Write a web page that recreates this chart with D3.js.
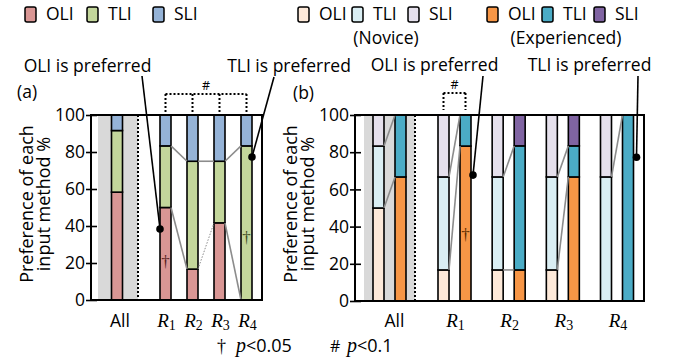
<!DOCTYPE html>
<html>
<head>
<meta charset="utf-8">
<script src="https://cdn.jsdelivr.net/npm/d3@7"></script>
<style>
  body { margin: 0; background: #fff; }
  svg { display: block; font-family: "Open Sans", sans-serif; }
</style>
</head>
<body>
<svg id="chart" width="673" height="364"></svg>
<script>
// NOTE: data (% of participants preferring each method)
const methods = ['OLI', 'TLI', 'SLI'];
const groups = ['All', 'R1', 'R2', 'R3', 'R4'];
const levels = ['Novice', 'Experienced'];
const yTicks = [0, 20, 40, 60, 80, 100];

// (a) all participants
const allOLI = [58.3, 50, 16.7, 41.7, 0];
const allTLI = [33.3, 33.3, 58.3, 33.3, 83.3];
const allSLI = [8.3, 16.7, 25, 25, 16.7];

// (b) novice vs experienced
const novOLI = [50, 16.7, 16.7, 16.7, 0];
const novTLI = [33.3, 50, 50, 50, 66.7];
const novSLI = [16.7, 33.3, 33.3, 33.3, 33.3];
const expOLI = [66.7, 83.3, 16.7, 66.7, 0];
const expTLI = [33.3, 16.7, 66.7, 16.7, 100];
const expSLI = [0, 0, 16.7, 16.7, 0];

// NOTE: colours
const colorsA = { OLI: '#d99694', TLI: '#c3d69b', SLI: '#95b3d7' };
const colorsNov = { OLI: '#fde9d9', TLI: '#daeef3', SLI: '#e5e0ec' };
const colorsExp = { OLI: '#f79646', TLI: '#4bacc6', SLI: '#8064a2' };
const linkColor = '#8c8c8c';
const shadeColor = '#d9d9d9';

const svg = d3.select('#chart');
const barW = 11;
const fs = 17.5;
const plotTop = 115, plotBottom = 300;

function stackOf(oli, tli, sli) {
  const rows = groups.map((g, i) => ({ group: g, OLI: oli[i], TLI: tli[i], SLI: sli[i] }));
  return d3.stack().keys(methods)(rows);
}

function drawBars(g, stacked, colors, xc, y) {
  stacked.forEach((layer) => {
    g.append('g')
      .selectAll('rect')
      .data(layer.filter((d) => d[1] - d[0] > 0))
      .join('rect')
      .attr('x', (d) => xc(d.data.group) - barW / 2)
      .attr('y', (d) => y(d[1]))
      .attr('width', barW)
      .attr('height', (d) => y(d[0]) - y(d[1]))
      .attr('fill', colors[layer.key])
      .attr('stroke', '#000')
      .attr('stroke-width', 1.6);
  });
}

function panel(shade) {
  const g = svg.append('g');
  g.append('rect')
    .attr('x', shade[0]).attr('y', plotTop)
    .attr('width', shade[1] - shade[0]).attr('height', plotBottom - plotTop)
    .attr('fill', shadeColor);
  g.append('line')
    .attr('x1', shade[1]).attr('x2', shade[1])
    .attr('y1', plotTop).attr('y2', plotBottom)
    .attr('stroke', '#000').attr('stroke-width', 2).attr('stroke-dasharray', '2,2');
  return g;
}

function frame(g, x0, x1, y) {
  g.append('rect')
    .attr('x', x0).attr('y', y(100))
    .attr('width', x1 - x0).attr('height', y(0) - y(100))
    .attr('fill', 'none').attr('stroke', '#000').attr('stroke-width', 2);
  const ax = g.append('g')
    .attr('transform', `translate(${x0},0)`)
    .call(d3.axisLeft(y).tickValues(yTicks).tickSize(5).tickPadding(1));
  ax.select('.domain').remove();
  // ticks cross the frame: a bit outside, a bit inside
  ax.selectAll('.tick line').attr('x1', 6).attr('stroke-width', 1.6);
  ax.selectAll('text')
    .attr('font-family', '"Open Sans", sans-serif')
    .attr('font-size', fs)
    .attr('fill', '#000');
}

function groupLabels(g, xc) {
  groups.forEach((name) => {
    if (name === 'All') {
      g.append('text').attr('x', xc(name)).attr('y', 327)
        .attr('text-anchor', 'middle').attr('font-size', fs).text('All');
    } else {
      const t = g.append('text').attr('x', xc(name) + 1).attr('y', 327)
        .attr('text-anchor', 'middle')
        .attr('font-family', '"Liberation Serif", serif');
      t.append('tspan').attr('font-style', 'italic').attr('font-size', 19).text('R');
      t.append('tspan').attr('font-size', 14).attr('dy', 3).text(name.slice(1));
    }
  });
}

function yLabel(xBase) {
  ['Preference of each', 'input method %'].forEach((s, i) => {
    svg.append('text')
      .attr('transform', `translate(${xBase + i * 17},204) rotate(-90)`)
      .attr('text-anchor', 'middle')
      .attr('font-size', 18)
      .text(s);
  });
}

function pointer(x1, y1, x2, y2) {
  svg.append('line')
    .attr('x1', x1).attr('y1', y1).attr('x2', x2).attr('y2', y2)
    .attr('stroke', '#000').attr('stroke-width', 1.6);
  svg.append('circle').attr('cx', x2).attr('cy', y2).attr('r', 3.8).attr('fill', '#000');
}

function dagger(x, y, color) {
  svg.append('text').attr('x', x).attr('y', y)
    .attr('text-anchor', 'middle')
    .attr('font-family', '"Liberation Serif", serif')
    .attr('font-size', 17).attr('fill', color)
    .text('\u2020');
}

function bracket(xs, yTop, yBot) {
  const g = svg.append('g')
    .attr('stroke', '#000').attr('stroke-width', 2).attr('stroke-dasharray', '2,2').attr('fill', 'none');
  g.append('line').attr('x1', xs[0]).attr('x2', xs[xs.length - 1]).attr('y1', yTop).attr('y2', yTop);
  xs.forEach((x) => g.append('line').attr('x1', x).attr('x2', x).attr('y1', yTop).attr('y2', yBot));
  svg.append('text')
    .attr('x', (xs[0] + xs[xs.length - 1]) / 2).attr('y', yTop - 4)
    .attr('text-anchor', 'middle').attr('font-size', 12.5).text('#');
}

function caption(x, y, s, anchor) {
  svg.append('text').attr('x', x).attr('y', y)
    .attr('text-anchor', anchor || 'middle').attr('font-size', fs).text(s);
}

// ---------------- (a) ----------------
const ya = d3.scaleLinear().domain([0, 100]).range([plotBottom, plotTop]);
const shadeA = [98, 138];
const xa = d3.scalePoint().domain(groups.slice(1)).range([165.5, 246.5]);
const xcA = (g) => (g === 'All' ? (shadeA[0] + shadeA[1]) / 2 - 1 : xa(g));
const gA = panel(shadeA);
const stackA = stackOf(allOLI, allTLI, allSLI);
drawBars(gA, stackA, colorsA, xcA, ya);

// links between consecutive scenarios (OLI top and TLI top)
const dottedA = ['OLI:R2'];
stackA.slice(0, 2).forEach((layer) => {
  for (let i = 1; i < groups.length - 1; i++) {
    const a = layer[i], b = layer[i + 1];
    const dotted = dottedA.includes(layer.key + ':' + groups[i]);
    gA.append('line')
      .attr('x1', xcA(groups[i]) + barW / 2).attr('y1', ya(a[1]))
      .attr('x2', xcA(groups[i + 1]) - barW / 2).attr('y2', ya(b[1]))
      .attr('stroke', linkColor)
      .attr('stroke-width', dotted ? 1 : 1.6)
      .attr('stroke-dasharray', dotted ? '1.5,1.5' : null);
  }
});
frame(gA, 91, 262, ya);
groupLabels(gA, (g) => (g === 'All' ? xcA(g) + 3 : xcA(g)));
yLabel(33);

// ---------------- (b) ----------------
const yb = d3.scaleLinear().domain([0, 100]).range([plotBottom + 1, plotTop]);
const shadeB = [364, 415];
const xb = d3.scalePoint().domain(groups.slice(1)).range([454.5, 617]);
const xcB = (g) => (g === 'All' ? (shadeB[0] + shadeB[1]) / 2 : xb(g));
const sub = d3.scaleBand().domain(levels).range([-16.5, 16.5]).paddingInner(0.5);
const gB = panel(shadeB);
const stackNov = stackOf(novOLI, novTLI, novSLI);
const stackExp = stackOf(expOLI, expTLI, expSLI);
drawBars(gB, stackNov, colorsNov, (g) => xcB(g) + sub('Novice') + barW / 2, yb);
drawBars(gB, stackExp, colorsExp, (g) => xcB(g) + sub('Experienced') + barW / 2, yb);

// links novice -> experienced in each group
[0, 1].forEach((k) => {
  groups.forEach((g, i) => {
    gB.append('line')
      .attr('x1', xcB(g) + sub('Novice') + barW).attr('y1', yb(stackNov[k][i][1]))
      .attr('x2', xcB(g) + sub('Experienced')).attr('y2', yb(stackExp[k][i][1]))
      .attr('stroke', linkColor).attr('stroke-width', 1.6);
  });
});
frame(gB, 355, 644, yb);
groupLabels(gB, (g) => (g === 'All' ? xcB(g) + 5 : xcB(g)));
yLabel(297);

// ---------------- annotations ----------------
caption(87.5, 72, 'OLI is preferred');
pointer(142, 76, xcA('R1') - barW / 2, ya(38.4));
caption(289, 72, 'TLI is preferred');
pointer(274, 77, xcA('R4') + barW / 2, ya(77.3));

caption(434.5, 71, 'OLI is preferred');
pointer(483, 76, xcB('R1') + sub('Experienced') + barW + 2, yb(67.7));
caption(589.5, 71, 'TLI is preferred');
pointer(638, 76, xcB('R4') + sub('Experienced') + barW + 3, yb(77.3));

caption(17, 98, '(a)', 'start');
caption(293, 99, '(b)', 'start');

dagger(xcA('R1'), ya(18), '#5a1f1f');
dagger(xcA('R4'), ya(31), '#3d4d1f');
dagger(xcB('R1') + sub('Experienced') + barW / 2, yb(33), '#5a2a00');

bracket(groups.slice(1).map((g) => xa(g)), 94, 112);
bracket(levels.map((l) => xcB('R1') + sub(l) + barW / 2), 93, 110);

// ---------------- legends ----------------
function legendItem(x, color, label) {
  svg.append('rect').attr('x', x).attr('y', 7).attr('width', 11).attr('height', 15).attr('rx', 2)
    .attr('fill', color).attr('stroke', '#000').attr('stroke-width', 1.5);
  svg.append('text').attr('x', x + 21).attr('y', 20).attr('font-size', fs).text(label);
}
const legendXA = [25, 87, 153];
methods.forEach((m, i) => legendItem(legendXA[i], colorsA[m], m));
const legendXB = [298, 352, 408, 487, 542, 594];
methods.forEach((m, i) => legendItem(legendXB[i], colorsNov[m], m));
methods.forEach((m, i) => legendItem(legendXB[i + 3], colorsExp[m], m));
caption(386, 44, '(Novice)');
caption(566, 44, '(Experienced)');

// ---------------- footnote ----------------
function footnote(xMark, xP, mark, rest) {
  svg.append('text').attr('x', xMark).attr('y', 352)
    .attr('font-family', mark === '#' ? '"Open Sans", sans-serif' : '"Liberation Serif", serif')
    .attr('font-size', mark === '#' ? 16 : 18).text(mark);
  const t = svg.append('text').attr('x', xP).attr('y', 352).attr('font-size', 18);
  t.append('tspan').attr('font-family', '"Liberation Serif", serif').attr('font-style', 'italic').attr('font-size', 20).text('p');
  t.append('tspan').text(rest);
}
footnote(217, 236, '\u2020', '<0.05');
footnote(330, 347, '#', '<0.1');
</script>
</body>
</html>
